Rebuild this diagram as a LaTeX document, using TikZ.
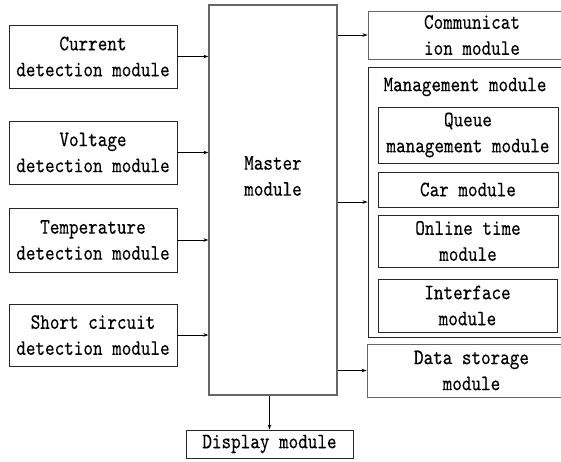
\documentclass[tikz,border=0pt]{standalone}
\usepackage{fontspec}
\usetikzlibrary{arrows.meta}
\newfontfamily\boxff{lmmono10-regular.otf}[FakeStretch=0.83,FakeBold=0.25]
\newcommand{\boxfont}{\boxff\fontsize{22}{26}\selectfont}
\begin{document}
\begin{tikzpicture}[x=1pt,y=-1pt,
  txt/.style={inner sep=0pt, align=center, font=\boxfont},
  box/.style={draw=black!85, line width=0.9pt, inner sep=0pt, align=center, font=\boxfont},
  graybox/.style={box, draw=black!60},
  arr/.style={-{Stealth[length=5pt,width=3.5pt]}, line width=0.8pt}]
\useasboundingbox (0,0) rectangle (561,461);
% left boxes
\node[box, minimum width=168pt, minimum height=63pt] (cur) at (93,56.5) {Current\\detection module};
\node[box, minimum width=168pt, minimum height=63pt] (vol) at (93,152.5) {Voltage\\detection module};
\node[box, minimum width=168pt, minimum height=64pt] (tem) at (93,240) {Temperature\\detection module};
\node[box, minimum width=168pt, minimum height=62pt] (sho) at (93,335) {Short circuit\\detection module};
% master
\node[draw=black!60, line width=1.3pt, minimum width=128pt, minimum height=390pt, inner sep=0pt] (mas) at (273,200) {};
\node[txt] (mastxt) at (273,176) {Master\\module};
% display
\node[box, minimum width=167pt, minimum height=28pt] (dis) at (269.5,444) {Display module};
% right
\node[graybox, minimum width=208pt, minimum height=48pt] (com) at (472,35) {Communicat\\ion module};
\node[box, minimum width=208pt, minimum height=270pt] (man) at (472,202) {};
\node[txt] (mantxt) at (465,87) {Management module};
\node[box, minimum width=180pt, minimum height=56pt] (que) at (468,135) {Queue\\management module};
\node[box, minimum width=180pt, minimum height=35pt] (car) at (468,189.5) {Car module};
\node[box, minimum width=180pt, minimum height=52pt] (onl) at (468,241) {Online time\\module};
\node[box, minimum width=179pt, minimum height=53pt] (int) at (467.5,305.5) {Interface\\module};
\node[graybox, minimum width=209pt, minimum height=53pt] (dat) at (471.5,370.5) {Data storage\\module};
% arrows
\draw[arr] (cur.east) -- (cur.east -| mas.west);
\draw[arr] (vol.east) -- (vol.east -| mas.west);
\draw[arr] (tem.east) -- (tem.east -| mas.west);
\draw[arr] (sho.east) -- (sho.east -| mas.west);
\draw[arr] (mas.east |- com.west) -- (com.west);
\draw[arr] (mas.east |- man.west) -- (man.west);
\draw[arr] (mas.east |- dat.west) -- (dat.west);
\draw[arr] (dis.north |- mas.south) -- (dis.north);
\end{tikzpicture}
\end{document}
